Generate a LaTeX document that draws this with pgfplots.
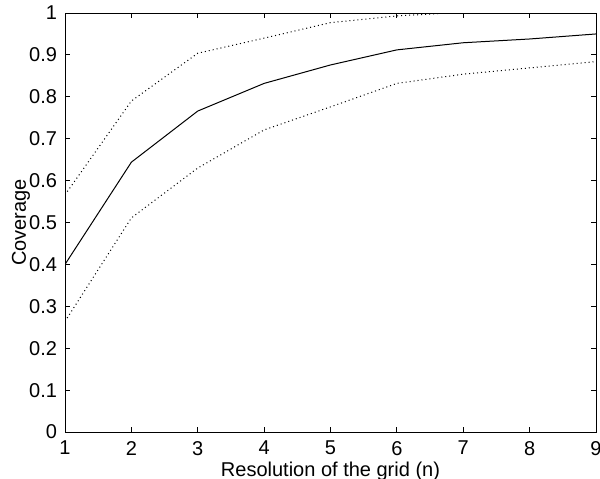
\documentclass[border=0pt]{standalone}
\usepackage{fontspec}
\setmainfont{Liberation Sans}
\usepackage{pgfplots}
\pgfplotsset{compat=1.18}
\usetikzlibrary{calc}
\begin{document}
\begin{tikzpicture}
\begin{axis}[
  name=ax,
  scale only axis,
  width=265.5pt, height=209.5pt,
  xmin=1, xmax=9, ymin=0, ymax=1,
  xtick={1,2,3,4,5,6,7,8,9},
  ytick={0,0.1,0.2,0.3,0.4,0.5,0.6,0.7,0.8,0.9,1},
  yticklabels={0,0.1,0.2,0.3,0.4,0.5,0.6,0.7,0.8,0.9,1},
  tick align=inside,
  major tick length=2.5pt,
  axis line style={line width=0.5pt},
  every tick/.style={black, line width=0.5pt},
  /pgf/number format/assume math mode=true,
  tick label style={font=\fontsize{10}{12}\selectfont},
  label style={font=\fontsize{10.8}{13}\selectfont},
  xlabel={Resolution of the grid (n)},
  ylabel={Coverage},
  every axis x label/.style={at={(axis description cs:0.5,0)}, anchor=north, yshift=-11.5pt},
  every axis y label/.style={at={(axis description cs:0,0.5)}, xshift=-14pt, rotate=90, anchor=south},
  xticklabel style={yshift=-1pt},
  yticklabel style={xshift=-0.5pt},
]
\addplot[black, line width=0.5pt] coordinates {
 (1,0.400) (2,0.644) (3,0.766) (4,0.832) (5,0.876) (6,0.912) (7,0.929) (8,0.938) (9,0.950)};
\addplot[black, line width=0.5pt, dash pattern=on 0.5pt off 1.5pt] coordinates {
 (1,0.566) (2,0.790) (3,0.904) (4,0.940) (5,0.977) (6,0.993) (7,1.002) (8,1.010) (9,1.020)};
\addplot[black, line width=0.5pt, dash pattern=on 0.5pt off 1.5pt] coordinates {
 (1,0.264) (2,0.511) (3,0.630) (4,0.721) (5,0.776) (6,0.832) (7,0.854) (8,0.869) (9,0.884)};
\end{axis}
\pgfresetboundingbox
\path ($(ax.south west)+(-32.5pt,-23pt)$) rectangle ($(ax.north east)+(2pt,6.5pt)$);
\end{tikzpicture}
\end{document}
